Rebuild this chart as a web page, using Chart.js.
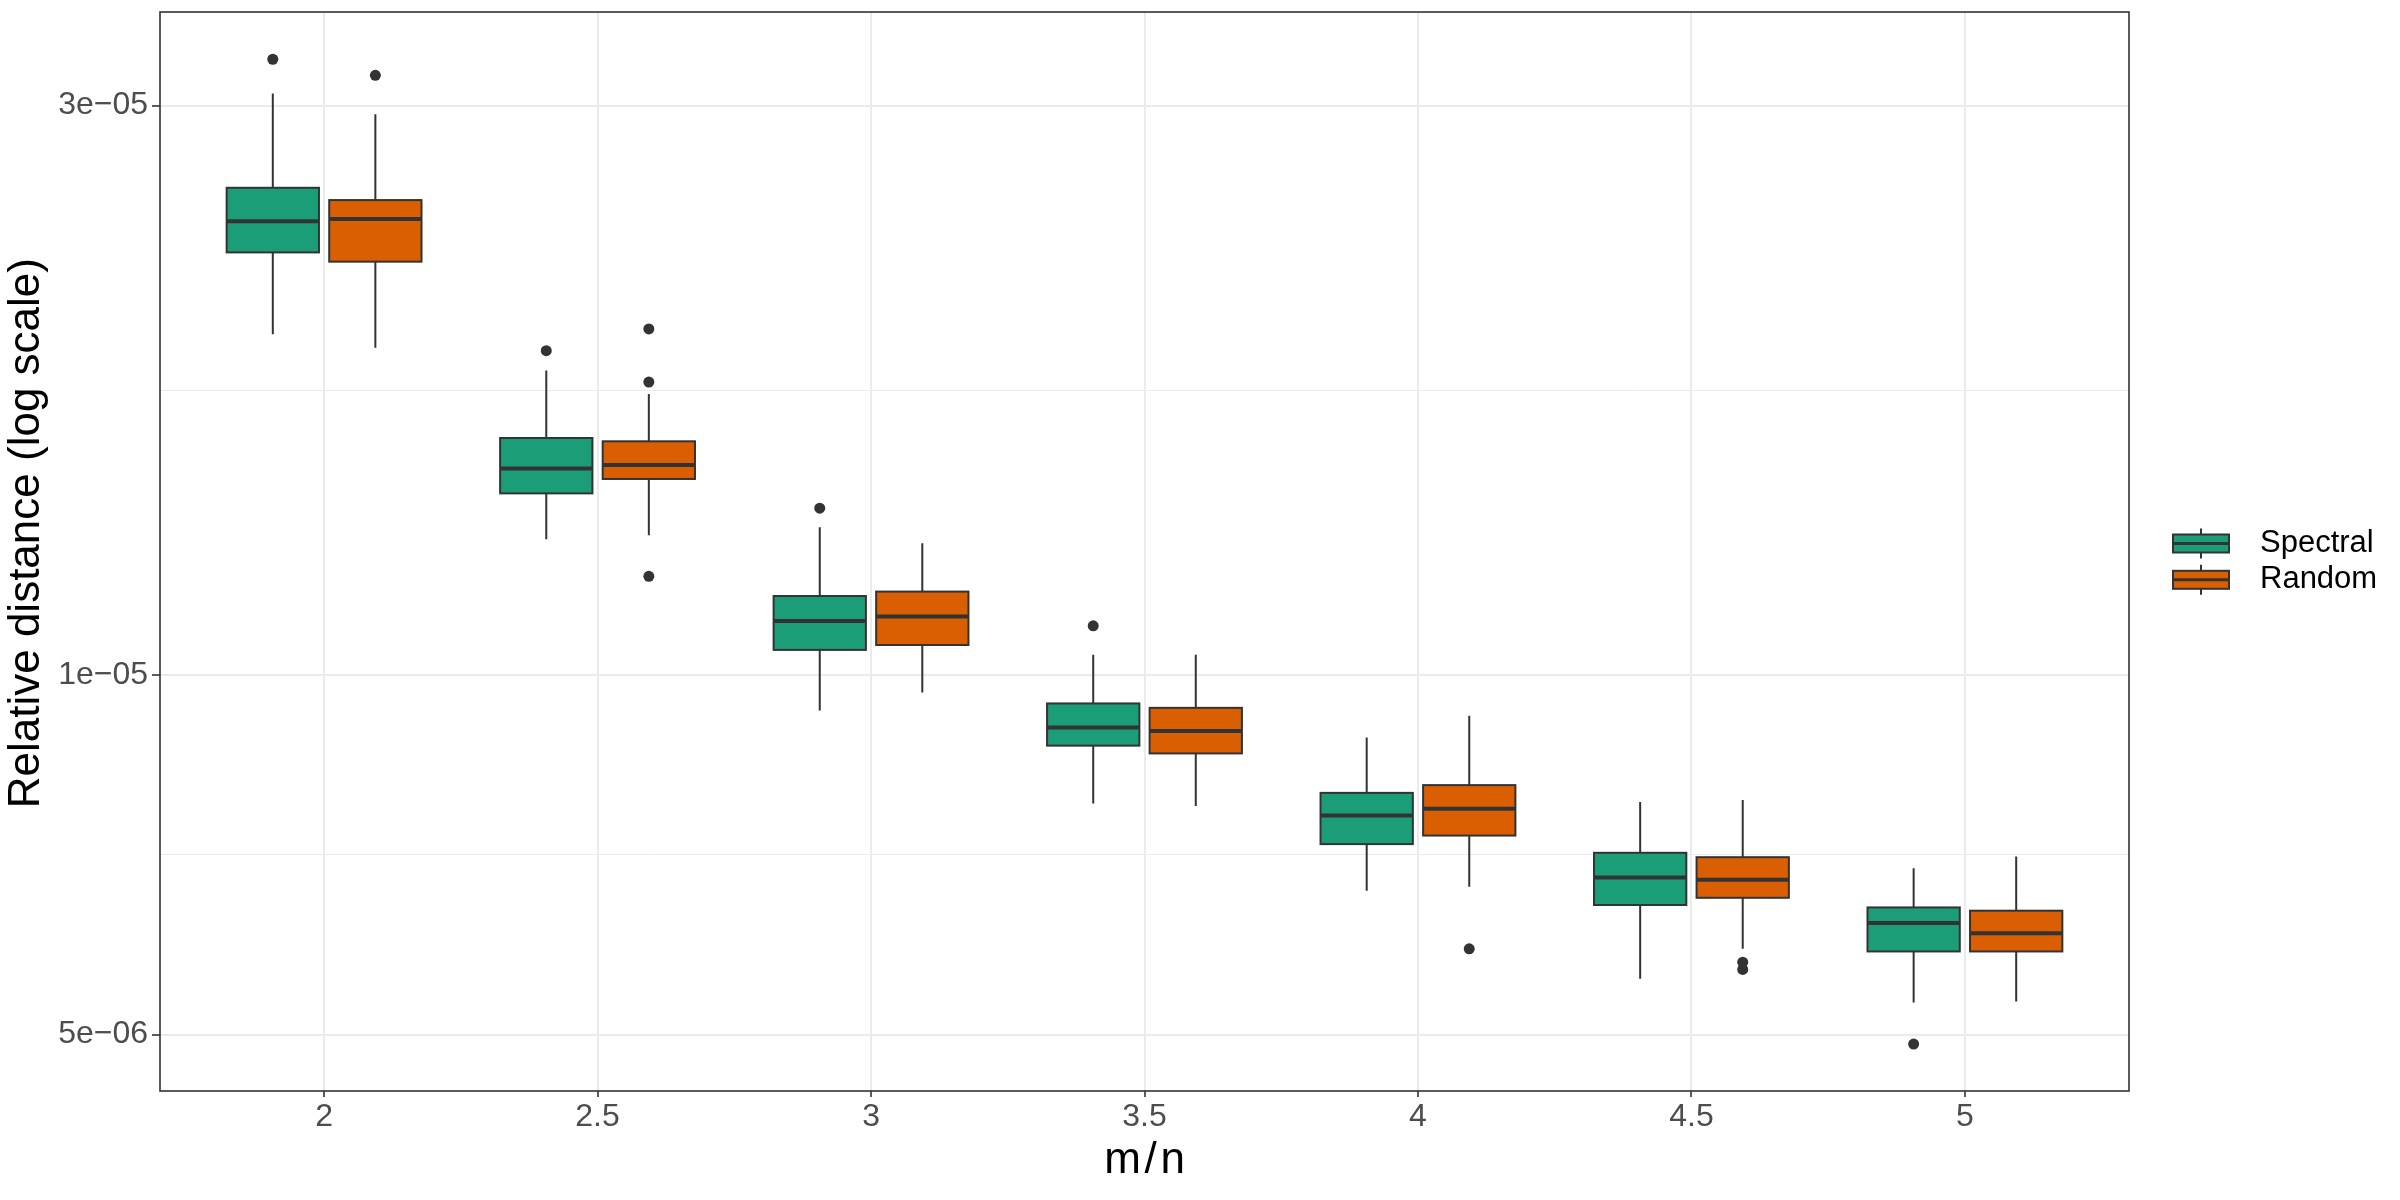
<!DOCTYPE html>
<html>
<head>
<meta charset="utf-8">
<script src="https://cdn.jsdelivr.net/npm/chart.js@4/dist/chart.umd.min.js"></script>
<style>
  body { margin: 0; background: #ffffff; }
</style>
</head>
<body>
<canvas id="myChart" width="2400" height="1200"></canvas>
<script>
// m/n ratios (x categories)
const ratios = [2, 2.5, 3, 3.5, 4, 4.5, 5];

// y axis: labelled breaks and the minor (unlabelled) grid lines between them
const yBreaks = [5e-6, 1e-5, 3e-5];
const yMinor = [7.071e-6, 1.732e-5];

// Spectral box stats
const spectralLow = [1.93e-5, 1.30e-5, 9.34e-6, 7.81e-6, 6.60e-6, 5.57e-6, 5.32e-6];
const spectralQ1  = [2.26e-5, 1.42e-5, 1.05e-5, 8.73e-6, 7.22e-6, 6.42e-6, 5.87e-6];
const spectralMed = [2.40e-5, 1.49e-5, 1.11e-5, 9.04e-6, 7.63e-6, 6.77e-6, 6.20e-6];
const spectralQ3  = [2.56e-5, 1.58e-5, 1.165e-5, 9.47e-6, 7.97e-6, 7.10e-6, 6.39e-6];
const spectralHigh = [3.07e-5, 1.80e-5, 1.33e-5, 1.04e-5, 8.87e-6, 7.83e-6, 6.89e-6];
const spectralOut = [[3.28e-5], [1.87e-5], [1.38e-5], [1.10e-5], [], [], [4.91e-6]];

// Random box stats
const randomLow = [1.88e-5, 1.31e-5, 9.67e-6, 7.77e-6, 6.65e-6, 5.90e-6, 5.33e-6];
const randomQ1  = [2.22e-5, 1.46e-5, 1.06e-5, 8.60e-6, 7.34e-6, 6.51e-6, 5.87e-6];
const randomMed = [2.41e-5, 1.50e-5, 1.12e-5, 8.98e-6, 7.73e-6, 6.74e-6, 6.08e-6];
const randomQ3  = [2.50e-5, 1.57e-5, 1.175e-5, 9.39e-6, 8.09e-6, 7.04e-6, 6.35e-6];
const randomHigh = [2.95e-5, 1.72e-5, 1.29e-5, 1.04e-5, 9.25e-6, 7.86e-6, 7.05e-6];
const randomOut = [[3.18e-5], [1.95e-5, 1.76e-5, 1.21e-5], [], [], [5.90e-6], [5.75e-6, 5.67e-6], []];

const DODGE = 0.09375;
const BOXW = 0.16875;

const series = [
    {name: 'Spectral', color: '#1B9E77', off: -DODGE,
     lo: spectralLow, q1: spectralQ1, med: spectralMed, q3: spectralQ3, hi: spectralHigh, out: spectralOut},
    {name: 'Random', color: '#D95F02', off: DODGE,
     lo: randomLow, q1: randomQ1, med: randomMed, q3: randomQ3, hi: randomHigh, out: randomOut}
];

function outlierPoints(s){
    var pts = [];
    ratios.forEach(function(r, i){
        s.out[i].forEach(function(v){ pts.push({x: r + s.off, y: v}); });
    });
    return pts;
};

const boxPlugin = {
    id: 'boxes',
    beforeDatasetsDraw(chart) {
        const ctx = chart.ctx, xs = chart.scales.x, ys = chart.scales.y;
        const half = (xs.getPixelForValue(1.7 + BOXW) - xs.getPixelForValue(1.7)) / 2;
        ctx.save();
        series.forEach(function(s){
            ratios.forEach(function(r, i){
                const cx = xs.getPixelForValue(r + s.off);
                const yLo = ys.getPixelForValue(s.lo[i]);
                const yQ1 = ys.getPixelForValue(s.q1[i]);
                const yMed = ys.getPixelForValue(s.med[i]);
                const yQ3 = ys.getPixelForValue(s.q3[i]);
                const yHi = ys.getPixelForValue(s.hi[i]);
                ctx.strokeStyle = '#333333';
                ctx.lineWidth = 2;
                ctx.beginPath();
                ctx.moveTo(cx, yHi); ctx.lineTo(cx, yQ3);
                ctx.moveTo(cx, yQ1); ctx.lineTo(cx, yLo);
                ctx.stroke();
                ctx.fillStyle = s.color;
                ctx.fillRect(cx - half, yQ3, 2 * half, yQ1 - yQ3);
                ctx.strokeRect(cx - half, yQ3, 2 * half, yQ1 - yQ3);
                ctx.lineWidth = 4;
                ctx.beginPath();
                ctx.moveTo(cx - half, yMed); ctx.lineTo(cx + half, yMed);
                ctx.stroke();
            });
        });
        ctx.restore();
    },
    afterDraw(chart) {
        const ctx = chart.ctx, a = chart.chartArea;
        ctx.save();
        // panel border
        ctx.strokeStyle = '#333333';
        ctx.lineWidth = 1.6;
        ctx.strokeRect(a.left, a.top, a.right - a.left, a.bottom - a.top);
        // legend
        const keyX = 2173, keyW = 56, keyY = [543.5, 579.8];
        series.forEach(function(s, k){
            const cy = keyY[k];
            ctx.strokeStyle = '#333333';
            ctx.lineWidth = 2;
            ctx.beginPath();
            ctx.moveTo(keyX + keyW / 2, cy - 15); ctx.lineTo(keyX + keyW / 2, cy + 15);
            ctx.stroke();
            ctx.fillStyle = s.color;
            ctx.fillRect(keyX, cy - 9, keyW, 18);
            ctx.strokeRect(keyX, cy - 9, keyW, 18);
            ctx.lineWidth = 3;
            ctx.beginPath();
            ctx.moveTo(keyX, cy); ctx.lineTo(keyX + keyW, cy);
            ctx.stroke();
            ctx.fillStyle = '#000000';
            ctx.font = '31px "Liberation Sans"';
            ctx.textAlign = 'left';
            ctx.textBaseline = 'middle';
            ctx.fillText(s.name, 2260, cy);
        });
        ctx.restore();
    }
};

Chart.defaults.font.family = '"Liberation Sans", Arial, sans-serif';

const ctx = document.getElementById('myChart').getContext('2d');
const myChart = new Chart(ctx, {
    type: 'scatter',
    data: {
        datasets: series.map(function(s){
            return {
                label: s.name,
                data: outlierPoints(s),
                backgroundColor: '#333333',
                borderWidth: 0,
                pointRadius: 5.5,
                pointHoverRadius: 5.5
            };
        })
    },
    options: {
        responsive: false,
        animation: false,
        devicePixelRatio: 1,
        events: [],
        layout: { padding: { left: 0, top: 12, right: 271, bottom: 0 } },
        plugins: {
            legend: { display: false },
            tooltip: { enabled: false }
        },
        scales: {
            x: {
                type: 'linear',
                min: 1.7,
                max: 5.3,
                afterBuildTicks: function(scale){
                    scale.ticks = ratios.map(function(v){ return {value: v}; });
                },
                afterFit: function(scale){
                    scale.height = 109;
                    scale.paddingLeft = 0;
                    scale.paddingRight = 0;
                },
                ticks: {
                    callback: function(v){ return String(v); },
                    font: { size: 32 },
                    color: '#4D4D4D',
                    padding: 1,
                    maxRotation: 0
                },
                grid: {
                    color: '#EBEBEB',
                    lineWidth: 2,
                    tickColor: '#333333',
                    tickLength: 6,
                    tickWidth: 1.6
                },
                border: { display: false },
                title: {
                    display: true,
                    text: 'm\u200A/\u200An',
                    font: { size: 44 },
                    color: '#000000',
                    padding: { top: 0, bottom: 13 }
                }
            },
            y: {
                type: 'logarithmic',
                min: 4.485e-6,
                max: 3.593e-5,
                afterBuildTicks: function(scale){
                    scale.ticks = yBreaks.concat(yMinor).sort(function(a, b){ return a - b; })
                        .map(function(v){ return {value: v}; });
                },
                afterFit: function(scale){
                    scale.width = 160;
                    scale.paddingTop = 0;
                    scale.paddingBottom = 0;
                },
                ticks: {
                    callback: function(v){
                        if (yMinor.indexOf(v) >= 0) return '';
                        return v.toExponential(0).replace('e-', 'e\u22120').replace(/e\u22120(\d\d)/, 'e\u2212$1');
                    },
                    font: { size: 32 },
                    color: '#4D4D4D',
                    padding: 4
                },
                grid: {
                    color: '#EBEBEB',
                    lineWidth: function(c){ return (c.tick && yMinor.indexOf(c.tick.value) >= 0) ? 1 : 2; },
                    tickColor: function(c){ return (c.tick && yMinor.indexOf(c.tick.value) >= 0) ? 'rgba(0,0,0,0)' : '#333333'; },
                    tickLength: 8,
                    tickWidth: 1.6
                },
                border: { display: false },
                title: {
                    display: true,
                    text: '   Relative distance (log scale)',
                    font: { size: 44 },
                    color: '#000000',
                    padding: { top: 0, bottom: 0 }
                }
            }
        }
    },
    plugins: [boxPlugin]
});
</script>
</body>
</html>
